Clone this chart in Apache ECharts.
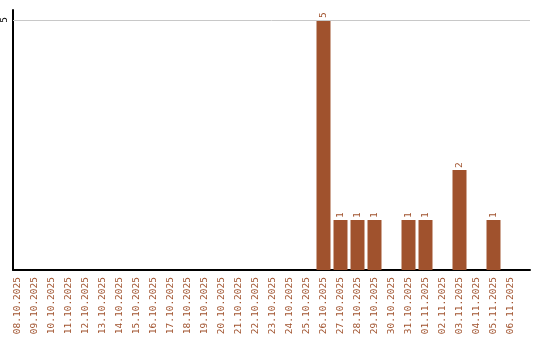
<!DOCTYPE html>
<html>
<head>
<meta charset="utf-8">
<script src="https://cdn.jsdelivr.net/npm/echarts@6/dist/echarts.min.js"></script>
<style>html,body{margin:0;padding:0;background:#fff}#c{width:540px;height:340px}</style>
</head>
<body>
<div id="c"></div>
<script>
const categories = ['08.10.2025','09.10.2025','10.10.2025','11.10.2025','12.10.2025','13.10.2025','14.10.2025','15.10.2025','16.10.2025','17.10.2025','18.10.2025','19.10.2025','20.10.2025','21.10.2025','22.10.2025','23.10.2025','24.10.2025','25.10.2025','26.10.2025','27.10.2025','28.10.2025','29.10.2025','30.10.2025','31.10.2025','01.11.2025','02.11.2025','03.11.2025','04.11.2025','05.11.2025','06.11.2025'];
const values = [0,0,0,0,0,0,0,0,0,0,0,0,0,0,0,0,0,0,5,1,1,1,0,1,1,0,2,0,1,0];
const yTickLabels = [5];

const mono = 'DejaVu Sans Mono';
const brown = '#a0522d';
const chart = echarts.init(document.getElementById('c'), null, {renderer: 'canvas'});
chart.setOption({
  animation: false,
  grid: [
    {left: 9, right: 21, top: 10, bottom: 70},
    {left: 11, right: 10, top: 10, bottom: 70}
  ],
  xAxis: [
    {type: 'category', gridIndex: 0, data: categories,
     axisLine: {show: false}, axisTick: {show: false},
     axisLabel: {interval: 0, rotate: 90, color: brown, fontFamily: mono, fontSize: 9.5, margin: 7}},
    {type: 'value', gridIndex: 1, min: 0, max: 1,
     axisLine: {show: true, lineStyle: {color: '#000', width: 2}},
     axisTick: {show: false}, axisLabel: {show: false}, splitLine: {show: false}}
  ],
  yAxis: [
    {type: 'value', gridIndex: 0, min: 0, max: 5.2, show: false},
    {type: 'value', gridIndex: 1, min: 0, max: 5.2, interval: 5,
     axisLine: {show: true, lineStyle: {color: '#000', width: 2}},
     axisTick: {show: false},
     axisLabel: {rotate: 90, color: '#000', fontFamily: mono, fontSize: 9.5, margin: 3,
       formatter: v => yTickLabels.indexOf(v) >= 0 ? String(v) : ''},
     splitLine: {show: false}}
  ],
  series: [{
    type: 'bar', xAxisIndex: 0, yAxisIndex: 0, z: 3,
    data: values.map(v => v === 0 ? null : v),
    barWidth: 14,
    itemStyle: {color: brown},
    label: {show: true, position: 'top', rotate: 90, align: 'left', verticalAlign: 'middle',
      distance: 2, color: brown, fontFamily: mono, fontSize: 9.5}
  }, {
    type: 'line', xAxisIndex: 1, yAxisIndex: 1, data: [], z: 1,
    markLine: {silent: true, symbol: 'none', label: {show: false},
      lineStyle: {color: '#c8c8c8', width: 1, type: 'solid'},
      data: yTickLabels.map(v => ({yAxis: v}))}
  }]
});
</script>
</body>
</html>
